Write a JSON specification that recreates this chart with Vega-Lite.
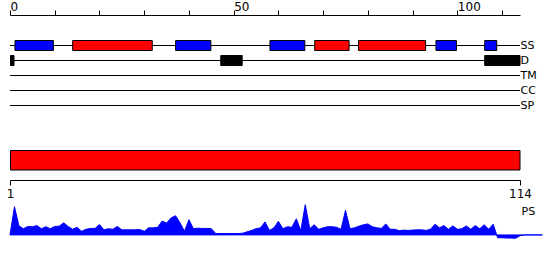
{
  "$schema": "https://vega.github.io/schema/vega-lite/v6.json",
  "background": "white",
  "padding": {"left": 6, "top": 0, "right": 0, "bottom": 0},
  "config": {
    "view": {"stroke": null},
    "font": "DejaVu Sans",
    "axis": {"domainColor": "black", "tickColor": "black", "labelColor": "black", "titleColor": "black", "labelFont": "DejaVu Sans", "titleFont": "DejaVu Sans", "grid": false, "domainWidth": 1, "tickWidth": 1}
  },
  "datasets": {
    "tracks": [
      {"track": "SS", "start": 0, "end": 114},
      {"track": "D", "start": 0, "end": 114},
      {"track": "TM", "start": 0, "end": 114},
      {"track": "CC", "start": 0, "end": 114},
      {"track": "SP", "start": 0, "end": 114}
    ],
    "features": [
      {"track": "SS", "type": "strand", "start": 1, "end": 9.7},
      {"track": "SS", "type": "helix", "start": 13.9, "end": 31.8},
      {"track": "SS", "type": "strand", "start": 36.9, "end": 44.9},
      {"track": "SS", "type": "strand", "start": 58, "end": 65.9},
      {"track": "SS", "type": "helix", "start": 68, "end": 75.8},
      {"track": "SS", "type": "helix", "start": 77.8, "end": 92.9},
      {"track": "SS", "type": "strand", "start": 95.1, "end": 99.8},
      {"track": "SS", "type": "strand", "start": 106, "end": 108.8},
      {"track": "D", "type": "disorder", "start": 0, "end": 0.9},
      {"track": "D", "type": "disorder", "start": 47, "end": 51.9},
      {"track": "D", "type": "disorder", "start": 106, "end": 114}
    ],
    "domains": [
      {"start": 1, "end": 114}
    ],
    "profile": [
      {"pos": 0, "value": 0}, {"pos": 1, "value": 1.0}, {"pos": 2, "value": 0.32}, {"pos": 3, "value": 0.22},
      {"pos": 4, "value": 0.30}, {"pos": 5, "value": 0.29}, {"pos": 6, "value": 0.33}, {"pos": 7, "value": 0.22},
      {"pos": 8, "value": 0.29}, {"pos": 9, "value": 0.22}, {"pos": 10, "value": 0.30}, {"pos": 11, "value": 0.31},
      {"pos": 12, "value": 0.43}, {"pos": 13, "value": 0.30}, {"pos": 14, "value": 0.20}, {"pos": 15, "value": 0.27},
      {"pos": 16, "value": 0.13}, {"pos": 17, "value": 0.20}, {"pos": 18, "value": 0.23}, {"pos": 19, "value": 0.23},
      {"pos": 20, "value": 0.37}, {"pos": 21, "value": 0.18}, {"pos": 22, "value": 0.22}, {"pos": 23, "value": 0.20},
      {"pos": 24, "value": 0.30}, {"pos": 25, "value": 0.18}, {"pos": 26, "value": 0.18}, {"pos": 27, "value": 0.18},
      {"pos": 28, "value": 0.18}, {"pos": 29, "value": 0.19}, {"pos": 30, "value": 0.13}, {"pos": 31, "value": 0.25},
      {"pos": 32, "value": 0.25}, {"pos": 33, "value": 0.27}, {"pos": 34, "value": 0.49}, {"pos": 35, "value": 0.42},
      {"pos": 36, "value": 0.60}, {"pos": 37, "value": 0.68}, {"pos": 38, "value": 0.43}, {"pos": 39, "value": 0.13},
      {"pos": 40, "value": 0.54}, {"pos": 41, "value": 0.22}, {"pos": 42, "value": 0.24}, {"pos": 43, "value": 0.23},
      {"pos": 44, "value": 0.23}, {"pos": 45, "value": 0.22}, {"pos": 46, "value": 0.05}, {"pos": 47, "value": 0.05},
      {"pos": 48, "value": 0.05}, {"pos": 49, "value": 0.05}, {"pos": 50, "value": 0.05}, {"pos": 51, "value": 0.05},
      {"pos": 52, "value": 0.06}, {"pos": 53, "value": 0.11}, {"pos": 54, "value": 0.16}, {"pos": 55, "value": 0.22},
      {"pos": 56, "value": 0.25}, {"pos": 57, "value": 0.46}, {"pos": 58, "value": 0.16}, {"pos": 59, "value": 0.25},
      {"pos": 60, "value": 0.48}, {"pos": 61, "value": 0.22}, {"pos": 62, "value": 0.29}, {"pos": 63, "value": 0.27},
      {"pos": 64, "value": 0.57}, {"pos": 65, "value": 0.15}, {"pos": 66, "value": 1.07}, {"pos": 67, "value": 0.22},
      {"pos": 68, "value": 0.36}, {"pos": 69, "value": 0.20}, {"pos": 70, "value": 0.25}, {"pos": 71, "value": 0.29},
      {"pos": 72, "value": 0.29}, {"pos": 73, "value": 0.27}, {"pos": 74, "value": 0.20}, {"pos": 75, "value": 0.87},
      {"pos": 76, "value": 0.22}, {"pos": 77, "value": 0.25}, {"pos": 78, "value": 0.31}, {"pos": 79, "value": 0.36},
      {"pos": 80, "value": 0.39}, {"pos": 81, "value": 0.29}, {"pos": 82, "value": 0.25}, {"pos": 83, "value": 0.23},
      {"pos": 84, "value": 0.39}, {"pos": 85, "value": 0.20}, {"pos": 86, "value": 0.20}, {"pos": 87, "value": 0.15},
      {"pos": 88, "value": 0.17}, {"pos": 89, "value": 0.16}, {"pos": 90, "value": 0.17}, {"pos": 91, "value": 0.18},
      {"pos": 92, "value": 0.18}, {"pos": 93, "value": 0.16}, {"pos": 94, "value": 0.20}, {"pos": 95, "value": 0.38},
      {"pos": 96, "value": 0.25}, {"pos": 97, "value": 0.33}, {"pos": 98, "value": 0.20}, {"pos": 99, "value": 0.32},
      {"pos": 100, "value": 0.20}, {"pos": 101, "value": 0.22}, {"pos": 102, "value": 0.32}, {"pos": 103, "value": 0.20},
      {"pos": 104, "value": 0.33}, {"pos": 105, "value": 0.22}, {"pos": 106, "value": 0.36}, {"pos": 107, "value": 0.20},
      {"pos": 108, "value": 0.38}, {"pos": 109, "value": -0.10}, {"pos": 110, "value": -0.10}, {"pos": 111, "value": -0.11},
      {"pos": 112, "value": -0.11}, {"pos": 113, "value": -0.12}, {"pos": 114, "value": -0.03}, {"pos": 115, "value": 0},
      {"pos": 116, "value": 0}, {"pos": 117, "value": 0}, {"pos": 118, "value": 0}, {"pos": 119, "value": 0}
    ]
  },
  "bounds": "flush",
  "spacing": 30,
  "vconcat": [
    {
      "width": 510,
      "height": 90,
      "layer": [
        {
          "data": {"name": "tracks"},
          "mark": {"type": "rule", "color": "black", "strokeWidth": 1, "yOffset": 0.5},
          "encoding": {
            "y": {"field": "track", "type": "nominal", "sort": null,
              "scale": {"type": "point", "padding": 1, "domain": ["SS", "D", "TM", "CC", "SP"]},
              "axis": {"orient": "right", "title": null, "ticks": false, "domain": false, "labelPadding": 0, "labelFontSize": 11, "labelBaseline": "middle", "labelAlign": "left"}},
            "x": {"field": "start", "type": "quantitative",
              "scale": {"domain": [0, 114], "nice": false, "zero": false},
              "axis": {"orient": "top", "title": null, "offset": 15, "values": [0, 10, 20, 30, 40, 50, 60, 70, 80, 90, 100, 110],
                "labelExpr": "datum.value % 50 === 0 ? datum.label : ''", "tickSize": 5, "labelAlign": "left",
                "labelBaseline": "alphabetic", "labelPadding": 0, "labelFontSize": 12, "labelFlush": false, "labelOverlap": false, "labelBound": false}},
            "x2": {"field": "end"}
          }
        },
        {
          "data": {"name": "features"},
          "mark": {"type": "bar", "size": 10, "stroke": "black", "strokeWidth": 1, "xOffset": 0.5, "yOffset": 0.5},
          "encoding": {
            "y": {"field": "track", "type": "nominal", "sort": null},
            "x": {"field": "start", "type": "quantitative"},
            "x2": {"field": "end"},
            "color": {"field": "type", "type": "nominal",
              "scale": {"domain": ["helix", "strand", "disorder"], "range": ["#ff0000", "#0000ff", "#000000"]},
              "legend": null}
          }
        }
      ]
    },
    {
      "bounds": "flush",
      "spacing": 35,
      "vconcat": [
        {
          "width": 510,
          "height": 20,
          "data": {"name": "domains"},
          "mark": {"type": "rect", "color": "#ff0000", "stroke": "black", "strokeWidth": 1, "xOffset": 0.5, "yOffset": 0.5},
          "encoding": {
            "x": {"field": "start", "type": "quantitative",
              "scale": {"domain": [1, 114], "nice": false, "zero": false},
              "axis": {"orient": "bottom", "title": null, "values": [1, 114], "offset": 10, "tickSize": 5,
                "labelFontSize": 12, "labelPadding": 3, "labelFlush": false, "labelOverlap": false, "labelBound": false}},
            "x2": {"field": "end"}
          }
        },
        {
          "width": 510,
          "height": 35,
          "data": {"name": "profile"},
          "mark": {"type": "area", "color": "#0000ff", "stroke": "#0000ff", "strokeWidth": 1},
          "encoding": {
            "x": {"field": "pos", "type": "quantitative", "scale": {"domain": [0, 114], "nice": false, "zero": false}, "axis": null},
            "y": {"field": "value", "type": "quantitative",
              "scale": {"domain": [-0.18, 1.06], "nice": false},
              "axis": {"orient": "right", "title": "PS", "labels": false, "ticks": false, "domain": false,
                "titleAngle": 0, "titleAlign": "left", "titleBaseline": "middle", "titleX": 1, "titleY": 6.5,
                "titleFontSize": 11, "titleFontWeight": "normal"}}
          }
        }
      ]
    }
  ]
}
